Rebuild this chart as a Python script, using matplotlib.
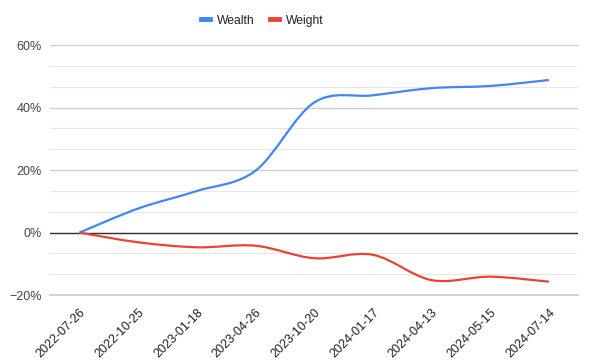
import numpy as np
import matplotlib.pyplot as plt
from matplotlib.path import Path
from matplotlib.patches import PathPatch
from matplotlib.ticker import MultipleLocator, FuncFormatter

dates = ['2022-07-26', '2022-10-25', '2023-01-18', '2023-04-26', '2023-10-20',
         '2024-01-17', '2024-04-13', '2024-05-15', '2024-07-14']
wealth = [0.0, 7.7, 13.3, 19.8, 41.6, 43.9, 46.2, 46.9, 48.8]
weight = [0.0, -3.1, -4.7, -4.2, -8.2, -7.1, -15.2, -14.1, -15.7]

plt.rcParams['font.family'] = ['Liberation Sans', 'DejaVu Sans']


def smooth_path(x, y):
    # catmull-rom style bezier through the points (like sheets' smooth lines)
    x = np.asarray(x, float)
    y = np.asarray(y, float)
    n = len(x)
    verts = [(x[0], y[0])]
    codes = [Path.MOVETO]
    for i in range(n - 1):
        i0 = max(i - 1, 0)
        i3 = min(i + 2, n - 1)
        c1 = (x[i] + (x[i + 1] - x[i0]) / 6, y[i] + (y[i + 1] - y[i0]) / 6)
        c2 = (x[i + 1] - (x[i3] - x[i]) / 6, y[i + 1] - (y[i3] - y[i]) / 6)
        verts += [c1, c2, (x[i + 1], y[i + 1])]
        codes += [Path.CURVE4] * 3
    return Path(verts, codes)


fig = plt.figure(figsize=(5.9, 3.63), dpi=100)
ax = fig.add_axes([0.085, 0.187, 0.895, 0.689])

xs = np.arange(len(dates))
for vals, col, name in [(wealth, '#4285F4', 'Wealth'), (weight, '#EA4335', 'Weight')]:
    ax.add_patch(PathPatch(smooth_path(xs, vals), fill=False, edgecolor=col,
                           lw=1.6, capstyle='butt', zorder=3))
    ax.plot([], [], color=col, lw=3.5, label=name)

ax.set_xlim(-0.5, len(dates) - 0.5)
ax.set_ylim(-20, 60)
ax.yaxis.set_major_locator(MultipleLocator(20))
ax.yaxis.set_minor_locator(MultipleLocator(20 / 3))
ax.yaxis.set_major_formatter(FuncFormatter(lambda v, p: f'{v:.0f}%'.replace('-', '\u2212')))
ax.grid(axis='y', which='major', color='#cccccc', lw=0.9)
ax.grid(axis='y', which='minor', color='#e8e8e8', lw=0.9)
ax.axhline(0, color='#333333', lw=1, zorder=2)
ax.axhline(-20, color='#cccccc', lw=1.2, clip_on=False, zorder=1)
ax.set_axisbelow(True)

ax.set_xticks(xs)
ax.set_xticklabels(dates, rotation=45, ha='right', rotation_mode='anchor')
ax.tick_params(axis='x', length=0, pad=8, labelsize=9, labelcolor='#222222')
ax.tick_params(axis='y', which='both', length=0, pad=6, labelsize=9, labelcolor='#444444')
for s in ax.spines.values():
    s.set_visible(False)

fig.legend(loc='center', bbox_to_anchor=(0.445, 0.943), ncol=2, frameon=False,
           fontsize=8.7, handlelength=0.75, columnspacing=1.3, handletextpad=0.55,
           labelcolor='#222222')

plt.savefig('out.png', dpi=100)
